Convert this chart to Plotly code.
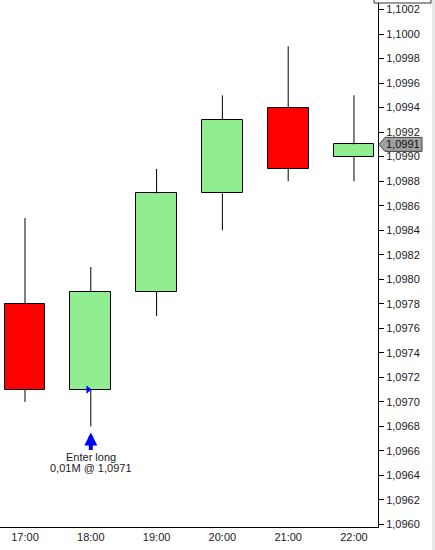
import plotly.graph_objects as go

# ---- data ----
times = ["17:00", "18:00", "19:00", "20:00", "21:00", "22:00"]
opens = [1.0978, 1.0971, 1.0979, 1.0987, 1.0994, 1.0990]
highs = [1.0985, 1.0981, 1.0989, 1.0995, 1.0999, 1.0995]
lows = [1.0970, 1.0968, 1.0977, 1.0984, 1.0988, 1.0988]
closes = [1.0971, 1.0979, 1.0987, 1.0993, 1.0989, 1.0991]

entry_index = 1
entry_price = 1.0971
entry_size = "0,01M"
entry_label = "Enter long"

y_tick_labels = ["1,0960", "1,0962", "1,0964", "1,0966", "1,0968", "1,0970",
                 "1,0972", "1,0974", "1,0976", "1,0978", "1,0980", "1,0982",
                 "1,0984", "1,0986", "1,0988", "1,0990", "1,0992", "1,0994",
                 "1,0996", "1,0998", "1,1000", "1,1002"]

# ---- styling ----
UP = "#90EE90"
DOWN = "#FF0000"
FONT = "Liberation Sans, Arial, sans-serif"

def fmt(v):
    return f"{v:.4f}".replace(".", ",")

xs = list(range(len(times)))
body_base = [min(o, c) for o, c in zip(opens, closes)]
body_h = [abs(c - o) for o, c in zip(opens, closes)]
body_col = [UP if c >= o else DOWN for o, c in zip(opens, closes)]

wx, wy = [], []
for i, (o, h, l, c) in enumerate(zip(opens, highs, lows, closes)):
    wx += [i, i, None, i, i, None]
    wy += [max(o, c), h, None, l, min(o, c), None]

fig = go.Figure()
fig.add_trace(go.Scatter(x=wx, y=wy, mode="lines",
                         line=dict(color="black", width=1),
                         hoverinfo="skip", showlegend=False))
fig.add_trace(go.Bar(x=xs, y=body_h, base=body_base, width=0.62,
                     marker=dict(color=body_col, line=dict(color="black", width=1)),
                     showlegend=False))
fig.add_trace(go.Scatter(x=[entry_index - 0.04], y=[entry_price], mode="markers",
                         marker=dict(symbol="triangle-right", size=7, color="#0000FF"),
                         showlegend=False))

tickvals = [float(t.replace(",", ".")) for t in y_tick_labels]

fig.update_layout(
    width=435, height=550,
    margin=dict(l=0, r=57, t=0, b=23),
    paper_bgcolor="white", plot_bgcolor="white",
    font=dict(family=FONT, size=11, color="#1a1a1a"),
    bargap=0,
    xaxis=dict(range=[-0.38, 5.365], tickvals=xs, ticktext=times,
               showgrid=False, zeroline=False, showline=True,
               linecolor="black", linewidth=1, ticks="",
               tickfont=dict(size=11, color="#1a1a1a")),
    yaxis=dict(range=[1.0959796, 1.1002775], side="right",
               tickvals=tickvals, ticktext=y_tick_labels,
               showgrid=False, zeroline=False, showline=True,
               linecolor="black", linewidth=1, ticks="outside",
               ticklen=5, tickcolor="black",
               tickfont=dict(size=11, color="#1a1a1a")),
    shapes=[
        # right window strip
        dict(type="rect", xref="paper", yref="paper", x0=432 / 378, x1=1.2,
             y0=-0.1, y1=1.1, fillcolor="#e8e8e8", line=dict(width=0), layer="above"),
        # clipped label at top
        dict(type="rect", xref="paper", yref="paper", x0=374 / 378, x1=431 / 378,
             y0=1 - 3 / 527, y1=1.05, fillcolor="white",
             line=dict(color="#333333", width=1), layer="above"),
        # last price tag
        dict(type="path", xref="paper", yref="y", xsizemode="pixel", ysizemode="pixel",
             xanchor=1, yanchor=closes[-1],
             path="M 1 0 L 7 7 L 44 7 L 44 -7 L 7 -7 Z",
             fillcolor="#a0a0a0", line=dict(color="#404040", width=1), layer="above"),
    ],
    annotations=[
        dict(xref="paper", yref="y", x=1, y=closes[-1], xshift=25, xanchor="center",
             yanchor="middle", text=fmt(closes[-1]),
             showarrow=False, font=dict(size=11, color="#111111")),
        dict(x=entry_index, y=lows[entry_index], text="", showarrow=True,
             ax=0, ay=19, arrowhead=2, arrowsize=0.65, arrowwidth=4,
             arrowcolor="#0000FF", yshift=-6),
        dict(x=entry_index, y=lows[entry_index], text=entry_label, showarrow=False,
             yshift=-31, font=dict(size=11, color="#1a1a1a")),
        dict(x=entry_index, y=lows[entry_index], text=f"{entry_size} @ {fmt(entry_price)}",
             showarrow=False, yshift=-42, font=dict(size=11, color="#1a1a1a")),
    ],
)

fig.write_html("out.html", config={"displayModeBar": False},
               post_script="document.body.style.margin='0';")
